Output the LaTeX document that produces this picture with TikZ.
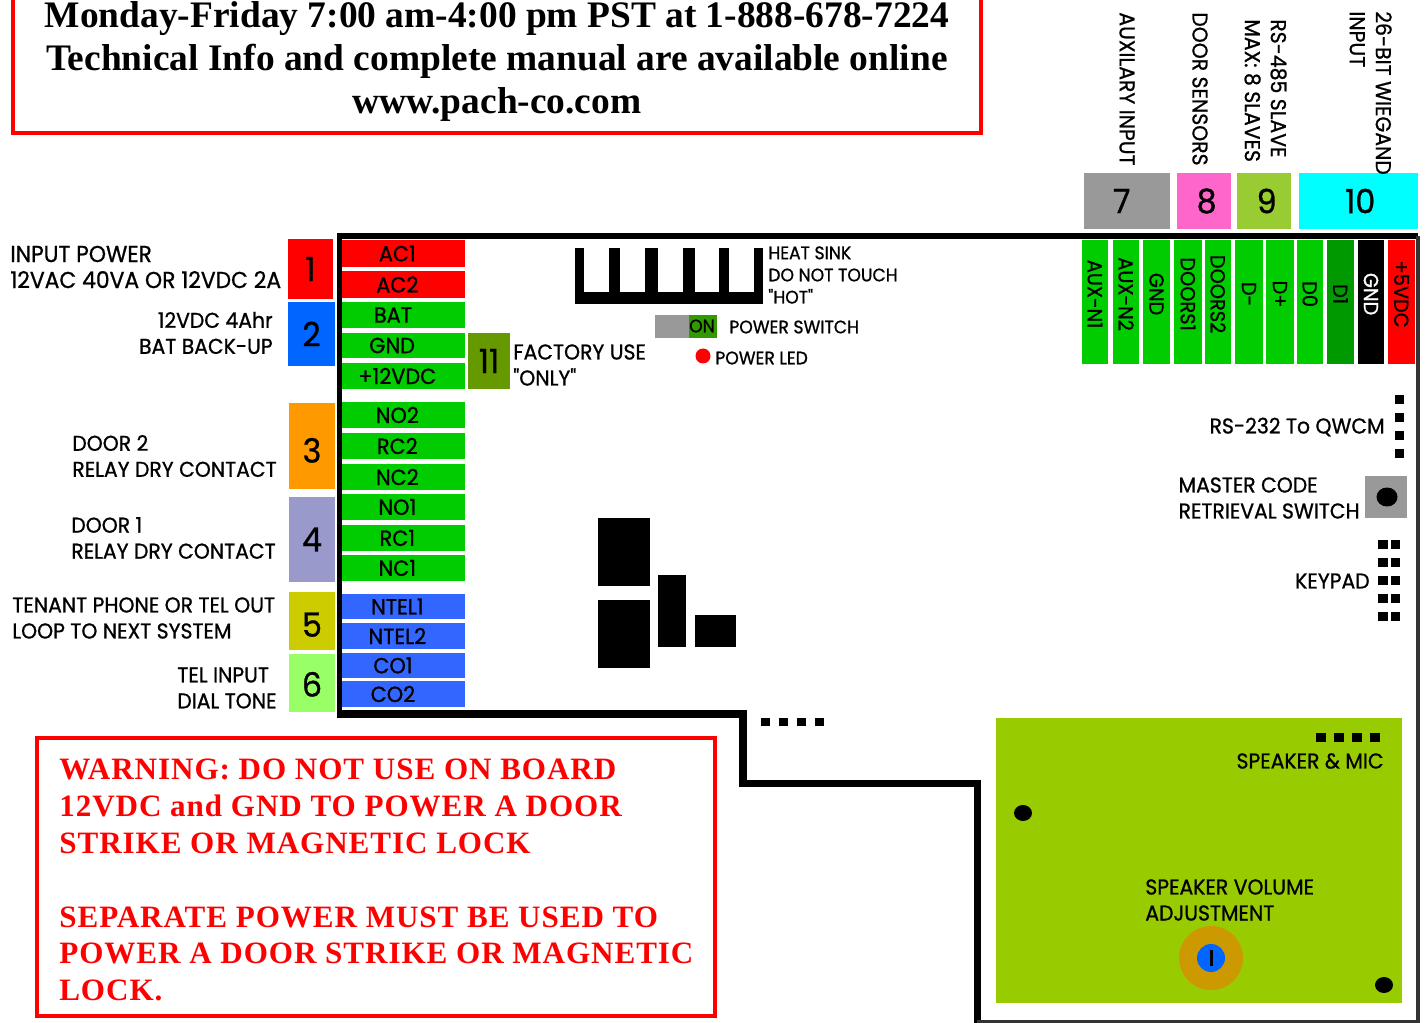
\documentclass[tikz,border=0pt]{standalone}
\usepackage{fontspec}
\setmainfont{Liberation Serif}
\newfontfamily\labelfont[FakeStretch=0.95, FakeBold=0.9]{Poppins}
\newfontfamily\warnfont[LetterSpace=3]{Liberation Serif}
\definecolor{pingreen}{HTML}{00CC00}
\definecolor{pinblue}{HTML}{3366FF}
\definecolor{boardgreen}{HTML}{99CC00}
\definecolor{numtwo}{HTML}{0066FF}
\definecolor{numthree}{HTML}{FF9900}
\definecolor{numfour}{HTML}{9999CC}
\definecolor{numfive}{HTML}{CCCC00}
\definecolor{numsix}{HTML}{99FF66}
\definecolor{numeleven}{HTML}{669900}
\definecolor{numeight}{HTML}{FF66CC}
\definecolor{numnine}{HTML}{99CC33}
\definecolor{numten}{HTML}{00FFFF}
\definecolor{darkpin}{HTML}{009900}
\definecolor{swon}{HTML}{339900}
\definecolor{potring}{HTML}{CC9900}
\tikzset{
  pin/.style={fill=pingreen, inner sep=0pt, font=\labelfont\fontsize{12.5}{14}\selectfont},
  numbox/.style={inner sep=0pt, font=\labelfont\fontsize{19}{20}\selectfont},
  lbl/.style={inner sep=0pt, anchor=west, align=left, font=\labelfont\fontsize{12.2}{14.8}\selectfont},
  lblr/.style={lbl, anchor=east, align=right},
  small/.style={font=\labelfont\fontsize{10.3}{12.6}\selectfont},
  notice/.style={inner sep=0pt, anchor=north west, align=left, text=red, font=\warnfont\fontsize{17.7}{21}\selectfont\bfseries}
}
\begin{document}
\begin{tikzpicture}[x=0.02cm, y=-0.02cm]
  \def\Pinl{342};
  \def\Pinr{465};
  \def\Pint{240};
  \def\Pinb{364};
  \clip (0,0) rectangle (1426,1023);
  \useasboundingbox (0,0) rectangle (1426,1023);

  % board outline
  \draw[line width=4.4pt] (977.5,1023) -- (977.5,783.5) -- (743,783.5) -- (743,714) -- (337,714);
  \draw[line width=3pt] (339.5,716) -- (339.5,236) -- (1418,236);
  \draw[line width=1.8pt, black!80] (1418,236) -- (1418,1022) -- (977,1022);

  % top notice
  \draw[red, line width=2.6pt] (13,-10) -- (13,133) -- (981,133) -- (981,-10);
  \node[inner sep=0pt, align=center, font=\fontsize{21.3}{24.7}\selectfont\bfseries] (hours) at (497,61.5)
    {Monday-Friday 7:00 am-4:00 pm PST at 1-888-678-7224\\
     Technical Info and complete manual are available online\\
     www.pach-co.com};

  % left terminals
  \foreach \name/\lab/\ya/\yb/\col in {
    acone/AC1/240/267/red, actwo/AC2/271/298/red,
    bat/BAT\kern5pt/302/328/pingreen, gnd/GND\kern6pt/333/358/pingreen, vdc/+12VDC/363/389/pingreen,
    notwo/NO2/402/428/pingreen, rctwo/RC2/433/459/pingreen, nctwo/NC2/464/490/pingreen,
    noone/NO1/494/520/pingreen, rcone/RC1/525/551/pingreen, ncone/NC1/555/581/pingreen,
    ntelone/NTEL1/594/619/pinblue, nteltwo/NTEL2/623/649/pinblue,
    coone/CO1\kern5pt/653/678/pinblue, cotwo/CO2\kern5pt/681/707/pinblue}
    \node[pin, fill=\col, minimum width=123*0.02cm, minimum height={(\yb-\ya)*0.02cm}] (\name) at ({(\Pinl+\Pinr)/2}, {(\ya+\yb)/2}) {\lab\kern7pt};

  % top terminals
  \foreach \name/\lab/\xa/\xb/\col/\txt in {
    auxa/AUX-N1/1082/1108/pingreen/black, auxb/AUX-N2/1113/1139/pingreen/black,
    gndc/GND/1143/1170/pingreen/black, dra/DOORS1/1174/1202/pingreen/black,
    drb/DOORS2/1205/1231/pingreen/black, dminus/D-/1235/1263/pingreen/black,
    dplus/D+/1266/1294/pingreen/black, dzero/D0/1297/1323/pingreen/black,
    done/D1/1327/1354/darkpin/black, gndw/GND/1358/1384/black/white,
    vfive/+5VDC/1388/1415/red/black}
    \node[pin, fill=\col, text=\txt, rotate=-90, minimum width=124*0.02cm, minimum height={(\xb-\xa)*0.02cm}, font=\labelfont\fontsize{11.6}{14}\selectfont] (\name) at ({(\xa+\xb)/2}, {(\Pint+\Pinb)/2}) {\lab\kern9pt};

  % numbered blocks
  \foreach \name/\lab/\xa/\ya/\xb/\yb/\col in {
    one/1/288/239/333/299/red, two/2/288/302/335/366/numtwo,
    three/\raisebox{-2.8pt}[13.3pt][0pt]{3}/289/403/335/489/numthree, four/4/289/497/335/582/numfour,
    five/\raisebox{-2.3pt}[13.3pt][0pt]{5}/289/592/335/650/numfive, six/\raisebox{-1.1pt}[13.3pt][0pt]{6}/289/654/335/712/numsix,
    eleven/11/468/333/510/389/numeleven,
    seven/7\kern6pt/1084/173/1170/229/black!40, eight/\kern3pt 8/1177/173/1231/229/numeight,
    nine/\kern3pt 9/1237/173/1291/229/numnine, ten/\kern2pt 10/1299/173/1418/229/numten}
    \node[numbox, fill=\col, minimum width={(\xb-\xa)*0.02cm}, minimum height={(\yb-\ya)*0.02cm}] (\name) at ({(\xa+\xb)/2}, {(\ya+\yb)/2}) {\lab};

  % left labels
  \node[lbl, font=\labelfont\fontsize{13.1}{14.8}\selectfont] (inpow) at (10,267) {INPUT POWER\\12VAC 40VA OR 12VDC 2A};
  \node[lblr] (back) at (273,333) {12VDC 4Ahr\\BAT BACK-UP};
  \node[lbl] (drtwo) at (72,456) {DOOR 2\\RELAY DRY CONTACT};
  \node[lbl] (drone) at (71,538) {DOOR 1\\RELAY DRY CONTACT};
  \node[lbl] (tenant) at (12,618) {TENANT PHONE OR TEL OUT\\LOOP TO NEXT SYSTEM};
  \node[lbl] (telin) at (177,688) {TEL INPUT\\DIAL TONE};
  \node[lbl] (factory) at (513,365) {FACTORY USE\\"ONLY"};

  % top labels
  \node[lbl, rotate=-90, anchor=west] (auxin) at (1127,12) {AUXILARY INPUT};
  \node[lbl, rotate=-90, anchor=west] (doorsen) at (1200,12) {DOOR SENSORS};
  \node[lbl, rotate=-90, anchor=north west] (slave) at (1287,19) {RS-485 SLAVE\\MAX: 8 SLAVES};
  \node[lbl, rotate=-90, anchor=north west] (wieg) at (1392,11) {26-BIT WIEGAND\\INPUT};

  % heat sink
  \fill (575,292) rectangle (763,304);
  \foreach \xa/\xb in {575/584, 609/620, 645/658, 683/695, 719/729, 754/763}
    \fill (\xa,248) rectangle (\xb,292);
  \node[lbl, small] (sink) at (768,275) {HEAT SINK\\DO NOT TOUCH\\"HOT"};

  % power switch and led
  \fill[black!40] (655,315) rectangle (689,338);
  \fill[swon] (689,315) rectangle (717,338);
  \node[inner sep=0pt, small] (on) at (702,326) {ON};
  \node[lbl, small] (pwrsw) at (729,327) {POWER SWITCH};
  \fill[red] (703,356) circle (7.5);
  \node[lbl, small] (pwrled) at (715,358) {POWER LED};

  % parts on the board
  \fill (598,518) rectangle (650,586);
  \fill (598,600) rectangle (650,668);
  \fill (658,575) rectangle (686,647);
  \fill (695,615) rectangle (736,647);
  \foreach \xa in {761,779,797,815}
    \fill (\xa,718) rectangle +(9,8);

  % right side headers
  \foreach \ya in {395,413,431,449}
    \fill (1395,\ya) rectangle +(9,9);
  \node[lblr] (rs232) at (1385,427) {RS-232 To QWCM};
  \fill[black!40] (1365,476) rectangle (1407,518);
  \fill (1387,497) ellipse (10.5 and 9.5);
  \node[lblr, align=left] (master) at (1360,498) {MASTER CODE\\RETRIEVAL SWITCH};
  \foreach \ya in {540,558,576,594,612} {
    \fill (1378,\ya) rectangle +(10,9);
    \fill (1391,\ya) rectangle +(9,9);
  }
  \node[lblr] (keypad) at (1370,581) {KEYPAD};

  % speaker module
  \fill[boardgreen] (996,718) rectangle (1402,1003);
  \foreach \xa in {1316,1334,1352,1370}
    \fill (\xa,733) rectangle +(10,9);
  \node[lblr] (speaker) at (1384,761) {SPEAKER \& MIC};
  \node[lbl] (volume) at (1145,900) {SPEAKER VOLUME\\ADJUSTMENT};
  \fill (1023,813) ellipse (9 and 8);
  \fill (1384,985) ellipse (9 and 8);
  \fill[potring] (1211,958) circle (32);
  \fill[numtwo] (1211,958) circle (14);
  \fill (1209.5,950) rectangle (1212.5,966);

  % warning
  \draw[red, line width=2.6pt] (37,738) rectangle (715,1016);
  \node[notice] (warn) at (59,758.5)
    {WARNING: DO NOT USE ON BOARD\\
     12VDC and GND TO POWER A DOOR\\
     STRIKE OR MAGNETIC LOCK\\[21pt]
     SEPARATE POWER MUST BE USED TO\\
     POWER A DOOR STRIKE OR MAGNETIC\\
     LOCK.};
\end{tikzpicture}
\end{document}
